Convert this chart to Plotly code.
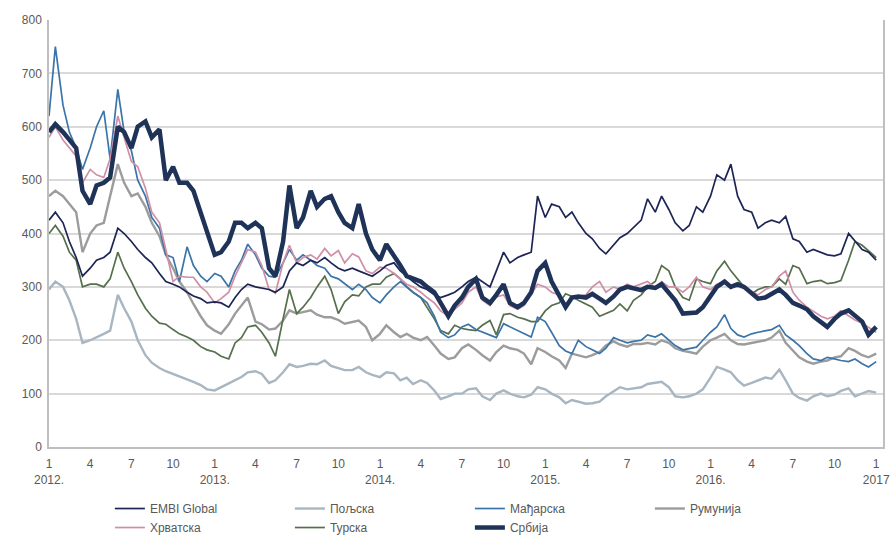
import pandas as pd
import plotly.graph_objects as go

# semi-monthly observation dates (1st and 15th of each month), Jan 2012 - Jan 2017
dates = pd.date_range("2012-01-01", periods=121, freq="SMS")

embi = [425, 440, 420, 385, 355, 320, 335, 350, 355, 365, 410, 400, 385, 370, 355, 345, 325, 310, 305, 300,
        290, 283, 278, 270, 272, 270, 262, 280, 295, 305, 300, 298, 295, 290, 300, 330, 345, 340, 350, 345,
        355, 345, 335, 330, 335, 330, 325, 320, 330, 340, 345, 330, 320, 310, 300, 295, 285, 280, 285, 290,
        300, 310, 318, 310, 300, 330, 365, 345, 355, 360, 365, 470, 430, 455, 450, 430, 440, 420, 400, 390,
        372, 362, 378, 392, 400, 412, 425, 465, 440, 470, 445, 420, 405, 415, 450, 440, 470, 510, 500, 530,
        470, 445, 440, 410, 420, 425, 420, 432, 390, 385, 365, 370, 365, 360, 358, 362, 400, 385, 370, 365,
        350]

poljska = [295, 310, 300, 275, 240, 195, 200, 205, 212, 218, 285, 260, 235, 200, 172, 158, 148, 142, 137, 132,
           127, 122, 116, 108, 106, 112, 118, 125, 131, 140, 142, 137, 120, 125, 140, 155, 150, 152, 156, 155,
           162, 152, 148, 144, 144, 150, 140, 135, 131, 140, 138, 125, 130, 118, 125, 120, 106, 90, 95, 100,
           100, 108, 110, 95, 88, 100, 106, 100, 95, 93, 98, 112, 108, 100, 93, 82, 88, 85, 81, 82,
           85, 95, 105, 112, 108, 110, 112, 118, 120, 122, 112, 95, 93, 95, 100, 108, 130, 150, 145, 140,
           125, 115, 120, 125, 130, 128, 145, 125, 100, 92, 87, 95, 100, 95, 98, 105, 110, 95, 100, 105,
           102]

madjarska = [620, 750, 640, 590, 560, 520, 560, 600, 630, 540, 670, 590, 555, 500, 470, 430, 410, 360, 355, 310,
             375, 340, 320, 310, 325, 320, 300, 330, 350, 380, 360, 335, 320, 318, 345, 370, 350, 360, 350, 340,
             335, 320, 315, 306, 295, 305, 295, 280, 270, 285, 300, 310, 300, 290, 280, 270, 245, 215, 205, 210,
             225, 230, 220, 215, 210, 205, 231, 225, 218, 212, 206, 243, 235, 215, 190, 180, 175, 200, 188, 182,
             175, 185, 205, 200, 195, 198, 200, 210, 206, 212, 200, 190, 182, 185, 187, 200, 215, 225, 248, 222,
             210, 206, 212, 215, 218, 220, 228, 210, 200, 190, 175, 165, 162, 168, 165, 162, 160, 165, 156, 150,
             160]

rumunija = [470, 480, 470, 455, 440, 365, 400, 415, 420, 470, 530, 495, 470, 475, 450, 420, 395, 360, 335, 310,
            290, 268, 245, 228, 218, 212, 230, 250, 265, 280, 235, 230, 220, 222, 237, 256, 250, 253, 256, 248,
            243, 243, 238, 231, 234, 237, 225, 200, 212, 228, 215, 206, 212, 205, 200, 206, 190, 175, 165, 168,
            185, 192, 182, 172, 162, 178, 190, 185, 182, 175, 155, 185, 178, 170, 162, 148, 175, 172, 168, 172,
            178, 190, 198, 192, 188, 193, 193, 195, 192, 200, 195, 185, 180, 178, 175, 188, 200, 205, 212, 200,
            193, 192, 195, 198, 200, 205, 218, 195, 180, 168, 160, 156, 160, 162, 168, 170, 185, 180, 172, 168,
            175]

hrvatska = [580, 600, 575, 560, 545, 495, 520, 510, 505, 540, 620, 580, 535, 525, 485, 440, 420, 370, 310, 320,
            318, 318, 300, 290, 270, 278, 290, 320, 345, 370, 365, 340, 295, 288, 345, 378, 345, 355, 360, 352,
            372, 358, 368, 345, 362, 356, 330, 325, 337, 335, 325, 315, 305, 300, 290, 280, 270, 255, 245, 258,
            270, 290, 300, 275, 265, 281, 285, 265, 258, 265, 285, 305, 300, 290, 285, 268, 280, 282, 285, 300,
            310, 290, 300, 295, 305, 300, 305, 310, 298, 310, 300, 300, 290, 300, 318, 300, 295, 305, 310, 300,
            300, 298, 290, 285, 295, 300, 320, 330, 290, 275, 262, 255, 245, 240, 245, 255, 245, 238, 232, 225,
            215]

turska = [400, 415, 395, 365, 350, 300, 305, 305, 300, 315, 365, 335, 310, 285, 260, 245, 232, 230, 220, 212,
          206, 200, 188, 182, 178, 170, 165, 195, 205, 225, 228, 215, 195, 170, 240, 295, 250, 262, 280, 300,
          320, 295, 250, 272, 285, 283, 300, 305, 305, 318, 325, 315, 300, 290, 280, 262, 240, 218, 212, 228,
          222, 220, 218, 228, 237, 210, 248, 250, 243, 240, 235, 235, 255, 265, 270, 287, 282, 275, 268, 262,
          245, 250, 256, 268, 255, 275, 285, 300, 310, 340, 330, 300, 280, 275, 315, 310, 306, 330, 348, 330,
          315, 300, 287, 295, 300, 300, 315, 305, 340, 335, 306, 310, 312, 306, 308, 312, 350, 385, 378, 368,
          355]

srbija = [590, 605, 590, 575, 560, 480, 455, 490, 495, 505, 600, 590, 560, 600, 610, 580, 595, 500, 525, 495,
          495, 480, 440, 400, 360, 365, 385, 420, 420, 410, 420, 410, 335, 320, 385, 490, 410, 430, 480, 450,
          465, 470, 440, 420, 410, 455, 400, 370, 350, 380, 360, 340, 320, 315, 310, 300, 290, 270, 245, 265,
          280, 300, 315, 280, 270, 285, 305, 270, 262, 270, 290, 330, 345, 310, 285, 262, 280, 282, 280, 287,
          278, 270, 282, 295, 300, 298, 294, 300, 298, 305, 290, 275, 250, 250, 252, 262, 285, 300, 310, 300,
          305, 300, 288, 278, 280, 287, 295, 285, 270, 265, 258, 245, 235, 225, 240, 250, 256, 245, 235, 210,
          225]

month_ticks = pd.date_range("2012-01-01", "2017-01-01", freq="QS")
tick_text = []
for d in month_ticks:
    if d.month == 1:
        year_label = f"{d.year}." if d.year < 2017 else f"{d.year}"
        tick_text.append(f"{d.month}<br>{year_label}")
    else:
        tick_text.append(f"{d.month}")

series = [
    # name, values, color, width, legend rank
    ("EMBI Global", embi, "#1d2556", 1.7, 1),
    ("Пољска", poljska, "#a8b6c2", 2.4, 2),
    ("Мађарска", madjarska, "#3b74a8", 1.7, 3),
    ("Румунија", rumunija, "#9c9c9c", 2.4, 4),
    ("Хрватска", hrvatska, "#cf8fa6", 1.7, 5),
    ("Турска", turska, "#566f4c", 1.7, 6),
    ("Србија", srbija, "#1f3358", 4.5, 7),
]
draw_order = ["Пољска", "Румунија", "Турска", "Мађарска", "Хрватска", "EMBI Global", "Србија"]

fig = go.Figure()
lookup = {s[0]: s for s in series}
for name in draw_order:
    n, vals, col, w, rank = lookup[name]
    fig.add_trace(go.Scatter(
        x=dates, y=vals, name=n, mode="lines",
        line=dict(color=col, width=w), legendrank=rank,
    ))

fig.update_layout(
    width=892, height=535,
    margin=dict(l=49, r=9, t=20, b=88, autoexpand=False),
    paper_bgcolor="white", plot_bgcolor="white",
    font=dict(family="Liberation Sans, Arial, sans-serif", size=12, color="#595959"),
    showlegend=True,
    legend=dict(
        orientation="h", xref="paper", x=0.073, yref="container", y=0.0766,
        xanchor="left", yanchor="top",
        entrywidth=135, entrywidthmode="pixels", itemwidth=30,
        font=dict(size=12, color="#595959"), tracegroupgap=0,
        traceorder="normal",
    ),
)
fig.update_xaxes(
    range=["2012-01-01", "2017-01-16"], automargin=False,
    tickmode="array", tickvals=month_ticks, ticktext=tick_text, tickangle=0,
    showgrid=False, showline=True, linecolor="#bfbfbf", linewidth=1.5,
    ticks="", zeroline=False, ticklabelstandoff=5,
)
fig.update_yaxes(
    range=[0, 800], tickvals=list(range(0, 801, 100)), automargin=False,
    showgrid=True, gridcolor="#d9d9d9", gridwidth=1.5,
    showline=True, linecolor="#bfbfbf", linewidth=1.5, mirror=True,
    zeroline=False, ticks="", ticklabelstandoff=3,
)

# remove the page's default body margin so the 892x535 figure fills the window
fig.write_html(
    "out.html",
    config={"displayModeBar": False},
    post_script="document.body.style.margin='0';document.body.style.overflow='hidden';",
)
